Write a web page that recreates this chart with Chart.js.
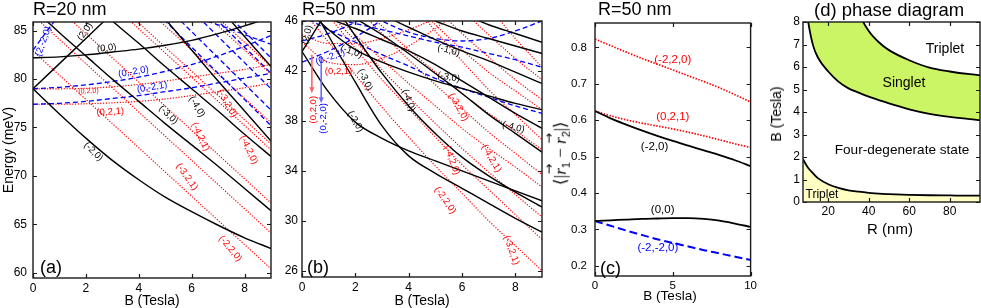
<!DOCTYPE html>
<html><head><meta charset="utf-8">
<script src="https://cdn.jsdelivr.net/npm/chart.js@4.4.0/dist/chart.umd.min.js"></script>
<style>
body{margin:0;background:#fff;width:981px;height:308px;overflow:hidden;position:relative;font-family:"Liberation Sans",Arial,Helvetica,sans-serif;color:#000;}
canvas{position:absolute;}
.t{position:absolute;white-space:nowrap;line-height:1;}
.c{position:absolute;white-space:nowrap;line-height:1;transform:translate(-50%,-50%);}
.v{position:absolute;white-space:nowrap;line-height:1;transform:translate(-50%,-50%) rotate(-90deg);}
</style></head><body>
<canvas id="ca" width="275" height="308" style="left:0;top:0"></canvas>
<canvas id="cb" width="272" height="308" style="left:272px;top:0"></canvas>
<canvas id="cc" width="215" height="308" style="left:545px;top:0"></canvas>
<canvas id="cd" width="221" height="240" style="left:760px;top:0"></canvas>

<div class="t" style="left:33px;top:0;font-size:18px">R=20 nm</div>
<div class="t" style="left:302px;top:0;font-size:18px">R=50 nm</div>
<div class="t" style="left:598px;top:0;font-size:18px">R=50 nm</div>
<div class="t" style="left:814px;top:1px;font-size:18.5px">(d) phase diagram</div>

<div class="v" style="left:8px;top:150px;font-size:14px">Energy (meV)</div>
<div class="c" style="left:152px;top:300px;font-size:14px">B (Tesla)</div>
<div class="c" style="left:422px;top:300px;font-size:14px">B (Tesla)</div>
<div class="c" style="left:670px;top:296px;font-size:13.5px">B (Tesla)</div>
<div class="v" style="left:776px;top:114px;font-size:14px">B (Tesla)</div>
<div class="c" style="left:890px;top:228px;font-size:15px">R (nm)</div>
<div class="v" style="left:562px;top:153px;font-size:17px;font-family:'Liberation Serif',serif">⟨|<span style="position:relative"><i>r</i><span style="position:absolute;left:0.5px;top:-0.62em;font-size:0.75em;font-family:'DejaVu Sans'">→</span></span><sub style="font-size:0.65em;font-family:'Liberation Sans'">1</sub> − <span style="position:relative"><i>r</i><span style="position:absolute;left:0.5px;top:-0.62em;font-size:0.75em;font-family:'DejaVu Sans'">→</span></span><sub style="font-size:0.65em;font-family:'Liberation Sans'">2</sub>|⟩</div>

<div class="t" style="left:40px;top:258px;font-size:18px">(a)</div>
<div class="t" style="left:307px;top:258px;font-size:18px">(b)</div>
<div class="t" style="left:600px;top:259px;font-size:18px">(c)</div>

<div class="c" style="left:945px;top:48px;font-size:14px">Triplet</div>
<div class="c" style="left:904px;top:82px;font-size:14px">Singlet</div>
<div class="c" style="left:902px;top:150px;font-size:13.6px">Four-degenerate state</div>
<div class="c" style="left:822px;top:194px;font-size:12px">Triplet</div>

<script>
// ---------------- Panel (a): R=20 nm ----------------
const A_B = [0,1,2,3,4,5,6,7,8,9];
const A_XTICKS = [0,2,4,6,8];
const A_YTICKS = [60,65,70,75,80,85];
// black solid
const A_K00  = [82.2,82.3,82.5,82.8,83.1,83.5,84.0,84.7,85.5,86.4];
const A_K20  = [79.0,81.6,84.2,86.8,89.4,92.0,94.6,97.2,99.8,102.4];
const A_KM20 = [79.0,76.4,73.9,71.6,69.6,67.8,66.3,64.9,63.6,62.5];
const A_KM30 = [87.3,84.8,82.4,80.0,77.7,75.4,73.2,71.0,68.7,66.4];
const A_KM40 = [93.0,90.6,88.3,86.0,83.7,81.3,79.0,76.7,74.3,72.0];
const A_KX1  = [102.0,98.8,95.6,92.4,89.3,86.2,83.0,79.8,76.7,73.6];
const A_KX2  = [109.0,106.0,103.0,99.5,96.5,93.5,90.5,87.5,84.4,81.3];
// red dotted
const A_R220 = [82.9,80.4,77.9,75.4,72.9,70.4,67.9,65.4,62.9,60.4];
const A_R2   = [86.6,84.1,81.6,79.1,76.6,74.1,71.6,69.1,66.6,64.1];
const A_R3   = [89.7,87.2,84.7,82.2,79.7,77.2,74.7,72.2,69.7,67.2];
const A_R4   = [95.2,92.7,90.2,87.7,85.2,82.7,80.2,77.7,75.2,72.7];
const A_R5   = [95.8,93.3,90.8,88.3,85.8,83.3,80.8,78.3,75.8,73.3];
const A_R6   = [98.0,95.5,93.0,90.5,88.0,85.5,83.0,80.5,78.0,75.5];
const A_R7   = [103.0,100.5,98.0,95.5,93.0,90.5,88.0,85.5,83.0,80.5];
const A_R8   = [103.8,101.3,98.8,96.3,93.8,91.3,88.8,86.3,83.8,81.3];
const A_R020 = [79.0,79.0,79.05,79.2,79.45,79.8,80.2,80.6,81.0,81.5];
const A_R021 = [77.4,77.4,77.45,77.55,77.7,77.95,78.3,78.7,79.1,79.6];
// blue dashed
const A_B2M20 = [83.0,86.7,90.4,94.1,97.8,101.5,105.2,108.9,112.6,116.3];
const A_B0M20 = [79.0,79.15,79.4,79.75,80.2,80.8,81.5,82.4,83.4,84.5];
const A_B0M21 = [77.4,77.5,77.7,78.0,78.3,78.7,79.1,79.6,80.1,80.6];
const A_BD1 = [99.5,96.8,94.1,91.4,88.7,86.0,83.3,80.6,77.9,75.2];
const A_BD2 = [101.1,98.4,95.7,93.0,90.3,87.6,84.9,82.2,79.5,76.8];
const A_BD3 = [103.3,100.6,97.9,95.2,92.5,89.8,87.1,84.4,81.7,79.0];
const A_BD4 = [104.9,102.2,99.5,96.8,94.1,91.4,88.7,86.0,83.3,80.6];
const A_BD5 = [106.5,103.8,101.1,98.4,95.7,93.0,90.3,87.6,84.9,82.2];
const A_BS1 = [92.0,91.0,90.0,89.1,88.2,87.4,86.5,85.6,84.6,83.6];

const A_BLACK = [A_K00,A_K20,A_KM20,A_KM30,A_KM40,A_KX1,A_KX2];
const A_RED = [A_R220,A_R2,A_R3,A_R4,A_R5,A_R6,A_R7,A_R8,A_R020,A_R021];
const A_BLUE = [A_B2M20,A_B0M20,A_B0M21,A_BD1,A_BD2,A_BD3,A_BD4,A_BD5,A_BS1];
const A_NOTES = [
 ["(2,-2,0)",0.39,83.9,-70,"b"],["(2,0)",1.97,84.9,-55,"k"],["(0,0)",2.79,83.2,-6,"k"],
 ["(0,-2,0)",3.8,80.75,-10,"b"],["(0,2,0)",2.1,78.75,-3,"r",7],["(0,-2,1)",4.5,79.15,-10,"b"],
 ["(0,2,1)",2.92,76.6,-3,"r"],["(-3,0)",5.12,76.3,45,"k"],["(-4,0)",6.2,77.15,60,"k"],
 ["(-3,2,0)",7.34,77.5,60,"r"],["(-4,2,1)",6.33,74.05,65,"r"],["(-4,2,0)",8.16,72.7,65,"r"],
 ["(-2,0)",2.28,72.5,45,"k"],["(-3,2,1)",5.82,69.9,55,"r"],["(-2,2,0)",7.46,62.5,50,"r"]
];

// ---------------- Panel (b): R=50 nm ----------------
const B_B = [0,1,2,3,4,5,6,7,8,9];
const B_XTICKS = [0,2,4,6,8];
const B_YTICKS = [26,30,34,38,42,46];
const B_K20   = [43.55,47.0,50.5,54.0,57.5,61.0,64.5,68.0,71.5,75.0];
const B_KM20  = [43.55,40.3,37.9,36.6,35.6,34.8,34.0,33.2,32.4,31.6];
const B_KM30A = [48.6,44.8,41.1,37.6,35.2,33.8,32.6,31.4,30.2,29.1];
const B_KM10A = [47.3,45.3,43.7,42.7,41.9,41.2,40.6,40.0,39.4,38.9];
const B_KM40A = [51.0,48.0,44.8,41.8,39.2,37.0,35.1,33.6,32.3,31.1];
const B_KM10B = [49.0,48.2,47.4,46.5,45.5,44.5,43.6,42.8,41.9,41.0];
const B_KM30B = [47.0,46.2,45.4,44.5,43.6,42.5,41.2,39.9,38.6,37.4];
const B_KM40B = [48.5,47.4,46.2,44.9,43.4,41.8,40.2,38.5,37.0,35.5];
const B_KT1   = [50.0,49.5,49.0,48.5,48.0,47.5,46.6,45.7,45.0,44.3];
const B_KT2   = [50.0,49.2,48.4,47.6,46.8,46.0,45.2,44.6,44.0,43.4];
const B_R1  = [46.9,44.3,41.7,39.1,36.7,34.4,32.2,30.0,28.0,26.0];
const B_R2  = [49.0,46.4,43.8,41.3,39.0,36.7,34.5,32.5,30.5,28.5];
const B_R3  = [49.1,46.7,44.4,42.1,39.9,37.8,35.8,33.9,32.1,30.3];
const B_R4  = [49.2,47.1,44.9,42.9,41.0,39.2,37.4,35.8,34.3,32.7];
const B_R5  = [51.8,49.5,47.2,45.0,42.9,40.9,39.0,37.1,35.4,33.7];
const B_R6  = [51.7,49.6,47.5,45.6,43.7,41.9,40.2,38.6,37.2,35.7];
const B_R7  = [56.8,54.6,52.3,50.1,47.8,45.2,42.8,40.5,38.5,36.5];
const B_R8  = [55.5,53.5,51.5,49.6,47.8,45.7,43.7,41.9,40.4,38.9];
const B_R9  = [58.0,56.0,54.0,52.0,49.6,47.1,45.0,43.1,41.3,39.7];
const B_R10 = [59.5,57.5,55.5,53.3,51.2,49.0,46.9,44.9,43.0,41.3];
const B_R11 = [64.0,61.7,59.5,57.2,54.9,52.5,50.1,47.2,44.6,42.3];
const B_R021 = [44.3,42.7,42.5,43.0,44.0,45.4,47.0,48.8,50.8,53.0];
const B_R020 = [44.9,44.2,44.2,44.6,45.3,46.2,47.3,48.6,50.0,51.5];
const B_B0M21 = [42.7,43.6,44.7,46.1,47.7,49.5,51.5,53.7,56.0,58.5];
const B_B0M20 = [44.4,45.0,45.9,47.0,48.3,49.8,51.5,53.3,55.3,57.4];
const B_D1 = [46.8,46.3,45.8,45.3,44.8,44.3,43.9,43.4,42.9,42.3];
const B_D2 = [50.0,48.5,47.2,46.0,45.1,44.6,44.4,44.6,45.2,46.0];
const B_D3 = [46.4,45.3,44.3,43.3,42.4,41.4,40.6,39.9,39.2,38.6];

const B_BLACK = [B_K20,B_KM20,B_KM30A,B_KM10A,B_KM40A,B_KM10B,B_KM30B,B_KM40B,B_KT1,B_KT2];
const B_RED = [B_R1,B_R2,B_R3,B_R4,B_R5,B_R6,B_R7,B_R8,B_R9,B_R10,B_R11,B_R021,B_R020];
const B_BLUE = [B_B0M21,B_B0M20,B_D1,B_D2,B_D3];
const B_NOTES = [
 ["(2,0)",0.19,44.9,-75,"k"],["(0,-2,1)",1.06,43.1,-20,"b"],["(-1,0)",1.85,43.55,20,"k"],
 ["(0,2,1)",1.37,42.0,0,"r"],["(-3,0)",2.37,41.3,65,"k"],["(-2,0)",2.0,37.95,60,"k"],
 ["(0,2,0)",0.44,38.9,-90,"r"],["(0,-2,0)",0.81,38.2,-90,"b"],["(-4,0)",4.0,39.65,70,"k"],
 ["(-1,0)",5.5,43.65,15,"k"],["(-3,0)",5.5,41.5,10,"k"],["(-3,2,0)",5.87,39.1,60,"r"],
 ["(-4,2,0)",5.62,34.85,70,"r"],["(-4,2,1)",7.1,35.0,60,"r"],["(-2,2,0)",5.37,31.65,55,"r"],
 ["(-3,2,1)",7.85,27.65,70,"r"],["(-4,0)",7.93,37.5,15,"k"]
];
const B_ARROWS = [[0.37,43.3,40.3,"#ff6060"],[0.72,43.2,39.5,"#6a6aff"]];

// ---------------- Panel (c) ----------------
const C_B = [0,1,2,3,4,5,6,7,8,9,10];
const C_XTICKS = [0,5,10];
const C_YTICKS = [0.2,0.3,0.4,0.5,0.6,0.7,0.8];
const C_R220 = [0.823,0.805,0.787,0.770,0.754,0.738,0.722,0.706,0.689,0.670,0.650];
const C_R021 = [0.625,0.612,0.601,0.592,0.584,0.576,0.567,0.557,0.546,0.535,0.525];
const C_K20  = [0.625,0.605,0.588,0.572,0.557,0.543,0.530,0.517,0.504,0.490,0.474];
const C_K00  = [0.323,0.325,0.327,0.329,0.330,0.331,0.331,0.329,0.324,0.316,0.307];
const C_B220 = [0.323,0.310,0.297,0.285,0.273,0.263,0.253,0.243,0.234,0.225,0.216];
const C_NOTES = [
 ["(-2,2,0)",5.0,0.767,0,"r",11.5],["(0,2,1)",5.0,0.609,0,"r",11.5],["(-2,0)",3.83,0.527,0,"k",11.5],
 ["(0,0)",4.35,0.355,0,"k",11.5],["(-2,-2,0)",4.04,0.25,0,"b",11.5]
];

// ---------------- Panel (d) ----------------
const D_R = [7.5,10,12.5,15,20,25,30,35,40,45,50,60,70,80,90,95];
const D_XTICKS = [20,40,60,80];
const D_YTICKS = [0,1,2,3,4,5,6,7,8];
const D_UPPER = [21,17,14.5,13,11.5,10.4,9.6,8.4,7.6,7.1,6.75,6.3,5.97,5.8,5.68,5.64];
const D_LOWER = [9.8,8.05,6.95,6.4,5.8,5.35,5.05,4.86,4.68,4.53,4.38,4.12,3.92,3.78,3.68,3.64];
const D_TRIP  = [1.9,1.52,1.27,1.05,0.79,0.63,0.52,0.46,0.41,0.37,0.35,0.32,0.30,0.29,0.28,0.28];

// ---------------- drawing helpers ----------------
const FONT = '"Liberation Sans", Arial, Helvetica, sans-serif';
const COL = {k:"#000000", r:"#ff0000", b:"#0000ff"};
const STY = {
  k:{borderColor:"#000000",borderWidth:1.4,borderDash:[]},
  r:{borderColor:"#ff0000",borderWidth:1.2,borderDash:[1.2,1.6]},
  b:{borderColor:"#0000ff",borderWidth:1.3,borderDash:[5,3]}
};
function ds(xs, ys, st, extra){
  return Object.assign({data: xs.map((x,i)=>({x:x,y:ys[i]})), pointRadius:0, fill:false,
    cubicInterpolationMode:'monotone', borderCapStyle:'butt'}, st, extra||{});
}
const boxPlugin = {
  id:'box',
  afterDraw(chart){
    const {ctx, chartArea:a, scales:{x,y}} = chart;
    ctx.save();
    ctx.strokeStyle='#1a1a1a'; ctx.lineWidth=1.2; ctx.setLineDash([]);
    ctx.beginPath();
    const L=4;
    x.ticks.forEach(t=>{const p=Math.round(x.getPixelForValue(t.value))+0.5;
      ctx.moveTo(p,a.bottom); ctx.lineTo(p,a.bottom-L); ctx.moveTo(p,a.top); ctx.lineTo(p,a.top+L);});
    y.ticks.forEach(t=>{const p=Math.round(y.getPixelForValue(t.value))+0.5;
      ctx.moveTo(a.left,p); ctx.lineTo(a.left+L,p); ctx.moveTo(a.right,p); ctx.lineTo(a.right-L,p);});
    ctx.stroke();
    ctx.lineWidth=1.4;
    ctx.strokeRect(a.left, a.top, a.right-a.left, a.bottom-a.top);
    ctx.restore();
  }
};
const notesPlugin = {
  id:'notes',
  afterDatasetsDraw(chart, args, opts){
    const {ctx, scales:{x,y}} = chart;
    ctx.save();
    (opts.arrows||[]).forEach(([vx,y0,y1,c])=>{
      const px=x.getPixelForValue(vx), p0=y.getPixelForValue(y0), p1=y.getPixelForValue(y1);
      ctx.strokeStyle=c; ctx.fillStyle=c; ctx.lineWidth=1.6; ctx.setLineDash([]);
      ctx.beginPath(); ctx.moveTo(px,p0); ctx.lineTo(px,p1-4); ctx.stroke();
      ctx.beginPath(); ctx.moveTo(px-2.5,p1-5); ctx.lineTo(px+2.5,p1-5); ctx.lineTo(px,p1+1); ctx.closePath(); ctx.fill();
    });
    (opts.items||[]).forEach(([t,vx,vy,rot,c,size])=>{
      ctx.save();
      ctx.translate(x.getPixelForValue(vx), y.getPixelForValue(vy));
      ctx.rotate(rot*Math.PI/180);
      ctx.font = (size||9.5)+'px '+FONT;
      ctx.fillStyle = COL[c]; ctx.textAlign='center'; ctx.textBaseline='middle';
      ctx.fillText(t,0,0);
      ctx.restore();
    });
    ctx.restore();
  }
};
Chart.register(boxPlugin, notesPlugin);

function axes(xmin,xmax,xt,ymin,ymax,yt,yw,xh,ypad,xpad,fs){
  const tk = {color:'#000', font:{size:fs||12,family:FONT}, autoSkip:false, maxRotation:0, minRotation:0};
  return {
    x:{type:'linear',min:xmin,max:xmax,
       afterBuildTicks:s=>{s.ticks=xt.map(v=>({value:v}));},
       afterFit:s=>{s.height=xh;},
       grid:{display:false,drawTicks:false}, border:{display:false},
       ticks:Object.assign({padding:xpad, callback:v=>String(v)},tk)},
    y:{type:'linear',min:ymin,max:ymax,
       afterBuildTicks:s=>{s.ticks=yt.map(v=>({value:v}));},
       afterFit:s=>{s.width=yw;},
       grid:{display:false,drawTicks:false}, border:{display:false},
       ticks:Object.assign({padding:ypad, callback:v=>String(v)},tk)}
  };
}
function baseOpts(pad, scales, notes, arrows){
  return {responsive:false, animation:false, devicePixelRatio:1, events:[],
    layout:{padding:pad},
    plugins:{legend:{display:false}, tooltip:{enabled:false}, notes:{items:notes||[], arrows:arrows||[]}},
    scales:scales};
}

// Panel (a)
new Chart(document.getElementById('ca'), {
  type:'line',
  data:{datasets:[].concat(
    A_BLACK.map(s=>ds(A_B,s,STY.k)),
    A_BLUE.map(s=>ds(A_B,s,STY.b)),
    A_RED.map(s=>ds(A_B,s,STY.r)))},
  options: baseOpts({left:0,right:4,top:22,bottom:0},
    axes(0,9,A_XTICKS,59.45,85.9,A_YTICKS,33,30,6,3), A_NOTES)
});
// Panel (b)
new Chart(document.getElementById('cb'), {
  type:'line',
  data:{datasets:[].concat(
    B_BLACK.map(s=>ds(B_B,s,STY.k)),
    B_BLUE.map(s=>ds(B_B,s,STY.b)),
    B_RED.map(s=>ds(B_B,s,STY.r)))},
  options: baseOpts({left:0,right:2,top:21,bottom:0},
    axes(0,9,B_XTICKS,25.5,46,B_YTICKS,30,31,4,3), B_NOTES, B_ARROWS)
});
// Panel (c)
new Chart(document.getElementById('cc'), {
  type:'line',
  data:{datasets:[
    ds(C_B,C_K20,STY.k,{borderWidth:1.8}),
    ds(C_B,C_K00,STY.k,{borderWidth:1.8}),
    ds(C_B,C_B220,STY.b,{borderWidth:2,borderDash:[8,4]}),
    ds(C_B,C_R220,STY.r,{borderWidth:1.7,borderDash:[1.5,1.5]}),
    ds(C_B,C_R021,STY.r,{borderWidth:1.7,borderDash:[1.5,1.5]})
  ]},
  options: baseOpts({left:0,right:4,top:23,bottom:0},
    axes(0,10,C_XTICKS,0.172,0.867,C_YTICKS,50,32,8,3,11.5), C_NOTES)
});
// Panel (d)
new Chart(document.getElementById('cd'), {
  type:'line',
  data:{datasets:[
    ds(D_R,D_TRIP,STY.k,{borderWidth:1.8, fill:'origin', backgroundColor:'#ffffc4'}),
    ds(D_R,D_UPPER,STY.k,{borderWidth:1.8}),
    ds(D_R,D_LOWER,STY.k,{borderWidth:1.8, fill:1, backgroundColor:'#ccf566'})
  ]},
  options: baseOpts({left:0,right:1,top:22,bottom:0},
    axes(7.5,95,D_XTICKS,0,8,D_YTICKS,43,38,3,2))
});
</script>
</body></html>
